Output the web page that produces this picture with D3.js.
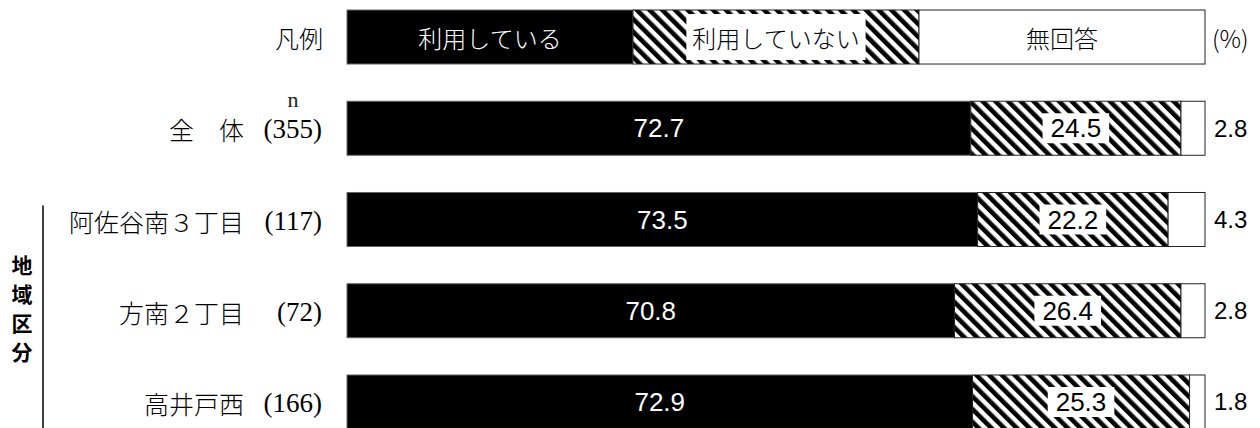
<!DOCTYPE html>
<html lang="ja">
<head>
<meta charset="utf-8">
<script src="https://cdn.jsdelivr.net/npm/d3@7"></script>
<style>
  html, body { margin: 0; padding: 0; background: #fff; }
  svg { display: block; }
</style>
</head>
<body>
<svg id="chart" width="1260" height="428"></svg>
<script>
// 区分と回答者数
const categories = ["全　体", "阿佐谷南３丁目", "方南２丁目", "高井戸西"];
const counts = [355, 117, 72, 166];
// 回答の割合（%）
const seriesNames = ["利用している", "利用していない", "無回答"];
const usingVals = [72.7, 73.5, 70.8, 72.9];
const notUsingVals = [24.5, 22.2, 26.4, 25.3];
const noAnswerVals = [2.8, 4.3, 2.8, 1.8];
const legendLabel = "凡例";
const groupLabel = "地域区分";
const unitLabel = "(%)";

const jpFont = "'Noto Sans CJK JP', sans-serif";
const serifFont = "'Liberation Serif', 'Noto Sans CJK JP', serif";
const numFont = "'Liberation Sans', Arial, sans-serif";

const svg = d3.select("#chart");

// 凡例行 + 各区分の行
const rowKeys = ["legend"].concat(categories);
const y = d3.scaleBand().domain(rowKeys).range([10, 429]).paddingInner(0.408).paddingOuter(0);
const x = d3.scaleLinear().domain([0, 100]).range([347, 1205]);

// 斜線パターン
const defs = svg.append("defs");
const pat = defs.append("pattern")
  .attr("id", "hatch")
  .attr("patternUnits", "userSpaceOnUse")
  .attr("width", 9).attr("height", 9)
  .attr("patternTransform", "rotate(-45)");
pat.append("rect").attr("width", 9).attr("height", 9).attr("fill", "#fff");
pat.append("rect").attr("width", 4.6).attr("height", 9).attr("fill", "#000");

const fills = ["#000", "url(#hatch)", "#fff"];

// 積み上げデータ
const table = categories.map((c, i) => ({
  key: c, n: counts[i], vals: [usingVals[i], notUsingVals[i], noAnswerVals[i]]
}));
const legendRow = { key: "legend", vals: [100 / 3, 100 / 3, 100 / 3] };

function segments(row) {
  let acc = 0;
  return row.vals.map((v, j) => {
    const s = { row: row.key, j, v, x0: acc, x1: acc + v };
    acc += v;
    return s;
  });
}

const allRows = [legendRow].concat(table);
const segs = allRows.flatMap(segments);

svg.append("g").selectAll("rect")
  .data(segs).join("rect")
  .attr("x", d => x(d.x0))
  .attr("y", d => y(d.row))
  .attr("width", d => x(d.x1) - x(d.x0))
  .attr("height", y.bandwidth())
  .attr("fill", d => fills[d.j])
  .attr("stroke", d => d.j === 0 ? "#666" : "#222")
  .attr("stroke-width", 1);

// 凡例のラベル
const legendSegs = segments(legendRow);
const lg = svg.append("g");
legendSegs.forEach((s, j) => {
  const cx = (x(s.x0) + x(s.x1)) / 2;
  const cy = y("legend") + y.bandwidth() / 2;
  const t = lg.append("text")
    .attr("x", cx).attr("y", cy)
    .attr("text-anchor", "middle")
    .attr("dominant-baseline", "central")
    .attr("font-family", jpFont)
    .attr("font-weight", 300)
    .attr("font-size", 24)
    .attr("fill", j === 0 ? "#fff" : "#000")
    .text(seriesNames[j]);
  if (j === 1) {
    const bb = t.node().getBBox();
    lg.insert("rect", "text")
      .attr("x", bb.x - 6).attr("y", cy - 23)
      .attr("width", bb.width + 12).attr("height", 46)
      .attr("fill", "#fff");
  }
});
svg.append("text")
  .attr("x", 323).attr("y", y("legend") + y.bandwidth() / 2)
  .attr("text-anchor", "end").attr("dominant-baseline", "central")
  .attr("font-family", jpFont).attr("font-weight", 300).attr("font-size", 24)
  .text(legendLabel);
svg.append("text")
  .attr("x", 1212).attr("y", y("legend") + y.bandwidth() / 2)
  .attr("dominant-baseline", "central")
  .attr("font-family", jpFont).attr("font-weight", 300).attr("font-size", 24)
  .text(unitLabel);

// 数値ラベル
const vg = svg.append("g");
table.forEach(row => {
  const ss = segments(row);
  const cy = y(row.key) + y.bandwidth() / 2;
  // 利用している
  vg.append("text")
    .attr("x", (x(ss[0].x0) + x(ss[0].x1)) / 2).attr("y", cy)
    .attr("text-anchor", "middle").attr("dominant-baseline", "central")
    .attr("font-family", numFont).attr("font-size", 26).attr("fill", "#fff")
    .text(ss[0].v.toFixed(1));
  // 利用していない（白地付き）
  const t = vg.append("text")
    .attr("x", (x(ss[1].x0) + x(ss[1].x1)) / 2).attr("y", cy)
    .attr("text-anchor", "middle").attr("dominant-baseline", "central")
    .attr("font-family", numFont).attr("font-size", 26).attr("fill", "#000")
    .text(ss[1].v.toFixed(1));
  const bb = t.node().getBBox();
  vg.insert("rect", "text")
    .attr("x", bb.x - 8).attr("y", cy - 15)
    .attr("width", bb.width + 16).attr("height", 30)
    .attr("fill", "#fff");
  // 無回答（バーの外）
  vg.append("text")
    .attr("x", x(100) + 9).attr("y", cy)
    .attr("dominant-baseline", "central")
    .attr("font-family", numFont).attr("font-size", 24).attr("fill", "#000")
    .text(ss[2].v.toFixed(1));
});

// 区分名と n
const lab = svg.append("g");
table.forEach(row => {
  const cy = y(row.key) + y.bandwidth() / 2 + 1;
  lab.append("text")
    .attr("x", 244).attr("y", cy)
    .attr("text-anchor", "end").attr("dominant-baseline", "central")
    .attr("font-family", jpFont).attr("font-weight", 300).attr("font-size", 25)
    .text(row.key);
  lab.append("text")
    .attr("x", 322).attr("y", cy)
    .attr("text-anchor", "end").attr("dominant-baseline", "central")
    .attr("font-family", serifFont).attr("font-size", 27)
    .text("(" + row.n + ")");
});
lab.append("text")
  .attr("x", 293).attr("y", y(categories[0]) + 6)
  .attr("text-anchor", "middle")
  .attr("font-family", serifFont).attr("font-size", 22)
  .attr("fill", "#222")
  .text("n");

// 地域区分の括り
const gTop = y(categories[1]) + 13;
svg.append("line")
  .attr("x1", 43).attr("x2", 43)
  .attr("y1", gTop).attr("y2", 428)
  .attr("stroke", "#000").attr("stroke-width", 1.5);
const gChars = Array.from(groupLabel);
svg.append("g").selectAll("text")
  .data(gChars).join("text")
  .attr("x", 22)
  .attr("y", (d, i) => 264 + i * 29)
  .attr("text-anchor", "middle").attr("dominant-baseline", "central")
  .attr("font-family", jpFont).attr("font-weight", 700).attr("font-size", 21)
  .text(d => d);
</script>
</body>
</html>
